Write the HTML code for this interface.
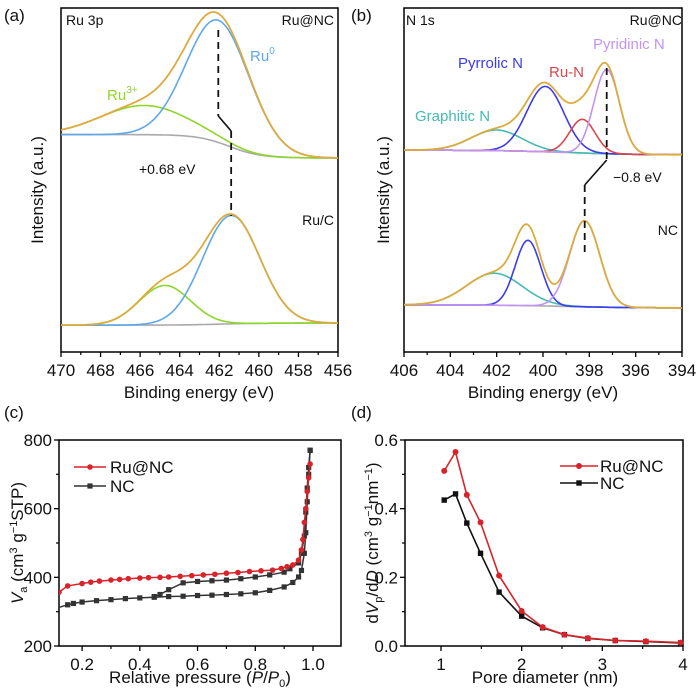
<!DOCTYPE html>
<html><head><meta charset="utf-8"><style>
html,body{margin:0;padding:0;background:#fff;}
svg{display:block;font-family:"Liberation Sans",sans-serif;}
</style></head><body>
<svg id="fig" width="700" height="694" viewBox="0 0 700 694"></svg>
<script>
// ---------- DATA ----------
// Panel (a) Ru 3p: peaks [center eV, height, sigma]
const aTopRu0 = [462.05, 35.5, 1.6];
const aTopRu3 = [465.8, 8.5, 2.2];
const aTopBase = [63.2, 56.4, 461.5, 1.6]; // left level, right level, step center, step width
const aBotRu0 = [461.4, 31.5, 1.45];
const aBotRu3 = [464.75, 11.5, 1.3];
const aBotBase = [7.8, 8.4, 462, 2];
const aTicks = [470,468,466,464,462,460,458,456];
// Panel (b) N 1s
const bTopPyrrolic = [399.9, 19, 0.8];
const bTopGraphitic = [402.0, 6, 1.1];
const bTopRuN = [398.3, 9.8, 0.55];
const bTopPyridinic = [397.25, 24.5, 0.55];
const bTopBase = [58.7, 57.3, 399, 3];
const bBotPyrrolic = [400.65, 19, 0.55];
const bBotGraphitic = [402.1, 9.3, 1.2];
const bBotPyridinic = [398.2, 25, 0.65];
const bBotBase = [13.7, 12.8, 399, 3];
const bTicks = [406,404,402,400,398,396,394];
// Panel (c) isotherms
const cRuP = [0.12,0.15,0.2,0.23,0.26,0.3,0.33,0.36,0.4,0.43,0.47,0.5,0.54,0.58,0.62,0.66,0.7,0.74,0.78,0.82,0.86,0.89,0.91,0.93,0.95,0.96,0.965,0.97,0.975,0.98,0.985,0.99];
const cRuV = [357,375,382,386,389,392,394,396,398,399,400,401,403,405,407,409,412,414,417,419,421,426,431,436,450,480,510,560,600,650,690,730];
const cNCadsP = [0.11,0.15,0.17,0.2,0.25,0.3,0.35,0.4,0.45,0.5,0.55,0.6,0.65,0.7,0.75,0.8,0.85,0.9,0.93,0.95,0.96,0.97,0.975,0.98,0.985,0.99];
const cNCadsV = [310,320,324,328,332,335,338,340,342,344,345,347,348,350,352,355,362,372,385,401,420,470,530,620,700,770];
const cNCdesP = [0.99,0.985,0.98,0.975,0.97,0.96,0.95,0.92,0.9,0.85,0.8,0.75,0.7,0.65,0.6,0.55,0.5,0.47,0.45];
const cNCdesV = [770,720,660,590,520,470,442,425,415,407,401,396,392,390,388,384,364,350,344];
const cXTicks = [0.2,0.4,0.6,0.8,1.0];
const cYTicks = [200,400,600,800];
// Panel (d) pore size distribution
const dX = [1.04,1.18,1.32,1.49,1.72,2.0,2.26,2.53,2.82,3.16,3.54,3.97];
const dRu = [0.51,0.565,0.44,0.36,0.205,0.102,0.055,0.033,0.023,0.016,0.014,0.010];
const dNC = [0.425,0.443,0.358,0.27,0.157,0.087,0.053,0.033,0.022,0.016,0.013,0.009];
const dXTicks = [1,2,3,4];
const dYTicks = [0.0,0.2,0.4,0.6];

// ---------- HELPERS ----------
const NS = "http://www.w3.org/2000/svg";
const svg = document.getElementById("fig");
function el(tag, attrs, parent) {
  const e = document.createElementNS(NS, tag);
  for (const k in attrs) e.setAttribute(k, attrs[k]);
  (parent || svg).appendChild(e);
  return e;
}
function txt(x, y, s, size, fill, anchor, parent) {
  const t = el("text", {x: x, y: y, "font-size": size, fill: fill || "#111", "text-anchor": anchor || "start"}, parent);
  t.innerHTML = s;
  return t;
}
function lin(d0, d1, r0, r1) { return v => r0 + (v - d0) / (d1 - d0) * (r1 - r0); }
function gauss(p, x) { return p[1] * Math.exp(-Math.pow(x - p[0], 2) / (2 * p[2] * p[2])); }
function base(b, x) { // step baseline, higher at high BE
  const s = 1 / (1 + Math.exp(-(x - b[2]) / (b[3] / 2)));
  return b[1] + (b[0] - b[1]) * s;
}
function curve(xs, fn, X, Y) {
  let d = "";
  xs.forEach((x, i) => { d += (i ? "L" : "M") + X(x).toFixed(1) + "," + Y(fn(x)).toFixed(1); });
  return d;
}
function frame(x0, y0, x1, y1, name) {
  const r = el("rect", {x: x0, y: y0, width: x1 - x0, height: y1 - y0, fill: "none", stroke: "#000", "stroke-width": 1.5});
  
  
}
function xAxis(ticks, X, yb, fmt, minor, name) {
  const g = el("g", {});
  
  
  ticks.forEach((t, i) => {
    el("line", {x1: X(t), x2: X(t), y1: yb, y2: yb + 5, stroke: "#000", "stroke-width": 1.3}, g);
    txt(X(t), yb + 24, fmt(t), 17, "#111", "middle", g);
    if (minor && i < ticks.length - 1) {
      const m = (t + ticks[i + 1]) / 2;
      el("line", {x1: X(m), x2: X(m), y1: yb, y2: yb + 3, stroke: "#000", "stroke-width": 1.2}, g);
    }
  });
}
function yAxis(ticks, Y, xl, fmt, name) {
  const g = el("g", {});
  
  
  ticks.forEach((t, i) => {
    el("line", {x1: xl - 5, x2: xl, y1: Y(t), y2: Y(t), stroke: "#000", "stroke-width": 1.3}, g);
    txt(xl - 7, Y(t) + 6, fmt(t), 17, "#111", "end", g);
    if (i < ticks.length - 1) {
      const m = (t + ticks[i + 1]) / 2;
      el("line", {x1: xl - 3, x2: xl, y1: Y(m), y2: Y(m), stroke: "#000", "stroke-width": 1.2}, g);
    }
  });
}
function range(a, b, n) { const r = []; for (let i = 0; i <= n; i++) r.push(a + (b - a) * i / n); return r; }
function path(d, color, w, name) {
  const p = el("path", {d: d, fill: "none", stroke: color, "stroke-width": w || 1.6});
  
  
  return p;
}
function label(x, y, s, size, color, name, anchor) {
  const t = txt(x, y, s, size, color, anchor);
  
  
  return t;
}
function vtitle(x, y, s, name) {
  const t = el("text", {x: 0, y: 0, "font-size": 17, fill: "#111", "text-anchor": "middle", transform: "translate(" + x + "," + y + ") rotate(-90)"});
  t.innerHTML = s;
  
  
}
const ORANGE = "#dcab3d", GRAY = "#aaaaaa";

// ---------- PANEL A ----------
(function () {
  const X = lin(470, 456, 61, 338), Y = lin(0, 100, 352, 8);
  const xs = range(470, 456, 280);
  frame(61, 8, 338, 352, "panel-a-frame");
  [[aTopBase, aTopRu0, aTopRu3, "top"], [aBotBase, aBotRu0, aBotRu3, "bottom"]].forEach(s => {
    const [b, p0, p3, nm] = s;
    path(curve(xs, x => base(b, x), X, Y), GRAY, 1.6, "ru3p-baseline-" + nm);
    path(curve(xs, x => base(b, x) + gauss(p3, x), X, Y), "#8fd62b", 1.6, "ru3plus-peak-" + nm);
    path(curve(xs, x => base(b, x) + gauss(p0, x), X, Y), "#5ea8ea", 1.6, "ru0-peak-" + nm);
    path(curve(xs, x => base(b, x) + gauss(p0, x) + gauss(p3, x), X, Y), ORANGE, 1.8, "ru3p-envelope-" + nm);
  });
  const xt = X(aTopRu0[0]), xb = X(aBotRu0[0]);
  path("M" + xt + ",30L" + xt + ",116", "#111", 1.8, "shift-line-top").setAttribute("stroke-dasharray", "7,5");
  path("M" + xt + ",116L" + xb + ",131", "#111", 1.6, "shift-line-diag");
  path("M" + xb + ",131L" + xb + ",216", "#111", 1.8, "shift-line-bottom").setAttribute("stroke-dasharray", "7,5");
  xAxis(aTicks, X, 352, t => t, true, "x-axis-a");
  label(199, 398, "Binding energy (eV)", 17, "#111", "x-axis-title-a", "middle");
  vtitle(43, 190, "Intensity (a.u.)", "y-axis-title-a");
  label(4, 21, "(a)", 17, "#111", "panel-label-a");
  label(66, 25, "Ru 3p", 14, "#111", "core-level-label-a");
  label(334, 25, "Ru@NC", 14, "#111", "sample-label-runc-a", "end");
  label(334, 225, "Ru/C", 14, "#111", "sample-label-ruc", "end");
  label(139, 174, "+0.68 eV", 14, "#111", "shift-annotation-a");
  label(250, 61, "Ru<tspan font-size='10' dy='-7'>0</tspan>", 15, "#5ea8ea", "ru0-label");
  label(107, 100, "Ru<tspan font-size='10' dy='-7'>3+</tspan>", 15, "#8fd62b", "ru3plus-label");
})();

// ---------- PANEL B ----------
(function () {
  const X = lin(406, 394, 404, 682), Y = lin(0, 100, 352, 8);
  const xs = range(406, 394, 300);
  frame(404, 8, 682, 352, "panel-b-frame");
  const top = [[bTopGraphitic, "#45bab2", "graphitic"], [bTopPyrrolic, "#3b3bf0", "pyrrolic"], [bTopRuN, "#d9474b", "ru-n"], [bTopPyridinic, "#c393f2", "pyridinic"]];
  const bot = [[bBotGraphitic, "#45bab2", "graphitic"], [bBotPyrrolic, "#3b3bf0", "pyrrolic"], [bBotPyridinic, "#c393f2", "pyridinic"]];
  [[bTopBase, top, "top"], [bBotBase, bot, "bottom"]].forEach(s => {
    const [b, peaks, nm] = s;
    path(curve(xs, x => base(b, x), X, Y), GRAY, 1.6, "n1s-baseline-" + nm);
    peaks.forEach(pk => path(curve(xs, x => base(b, x) + gauss(pk[0], x), X, Y), pk[1], 1.6, pk[2] + "-peak-" + nm));
    path(curve(xs, x => base(b, x) + peaks.reduce((a, pk) => a + gauss(pk[0], x), 0), X, Y), ORANGE, 1.8, "n1s-envelope-" + nm);
  });
  const xt = X(bTopPyridinic[0]), xb = X(bBotPyridinic[0]);
  path("M" + xt + ",68L" + xt + ",160", "#111", 1.8, "shift-line-top-b").setAttribute("stroke-dasharray", "7,5");
  path("M" + xt + ",160L" + xb + ",185", "#111", 1.6, "shift-line-diag-b");
  path("M" + xb + ",185L" + xb + ",256", "#111", 1.8, "shift-line-bottom-b").setAttribute("stroke-dasharray", "7,5");
  xAxis(bTicks, X, 352, t => t, true, "x-axis-b");
  label(543, 398, "Binding energy (eV)", 17, "#111", "x-axis-title-b", "middle");
  vtitle(389, 190, "Intensity (a.u.)", "y-axis-title-b");
  label(351, 21, "(b)", 17, "#111", "panel-label-b");
  label(406, 25, "N 1s", 14, "#111", "core-level-label-b");
  label(682, 25, "Ru@NC", 14, "#111", "sample-label-runc-b", "end");
  label(678, 235, "NC", 14, "#111", "sample-label-nc", "end");
  label(613, 182, "\u22120.8 eV", 14, "#111", "shift-annotation-b");
  label(458, 68, "Pyrrolic N", 15, "#3b3bf0", "pyrrolic-label");
  label(549, 77, "Ru-N", 15, "#d9474b", "ru-n-label");
  label(593, 49, "Pyridinic N", 15, "#c393f2", "pyridinic-label");
  label(415, 121, "Graphitic N", 15, "#45bab2", "graphitic-label");
})();

// ---------- PANEL C ----------
(function () {
  const X = lin(0.12, 1.097, 59, 341), Y = lin(200, 800, 646, 440);
  frame(59, 440, 341, 646, "panel-c-frame");
  const clip = el("clipPath", {id: "clipc"});
  el("rect", {x: 59, y: 440, width: 282, height: 206}, clip);
  const g = el("g", {"clip-path": "url(#clipc)"});
  
  
  function series(P, V, color, shape, name) {
    const p = el("path", {d: P.map((x, i) => (i ? "L" : "M") + X(x) + "," + Y(V[i])).join(""), fill: "none", stroke: color, "stroke-width": 1.5}, g);
    
    
    P.forEach((x, i) => {
      let m;
      if (shape === "c") m = el("circle", {cx: X(x), cy: Y(V[i]), r: 2.8, fill: color}, g);
      else m = el("rect", {x: X(x) - 2.6, y: Y(V[i]) - 2.6, width: 5.2, height: 5.2, fill: color}, g);
      
      
    });
  }
  series(cNCadsP, cNCadsV, "#333", "s", "nc-adsorption");
  series(cNCdesP, cNCdesV, "#333", "s", "nc-desorption");
  series(cRuP, cRuV, "#d8232a", "c", "runc-isotherm");
  xAxis(cXTicks, X, 646, t => t.toFixed(1), true, "x-axis-c");
  yAxis(cYTicks, Y, 59, t => t, "y-axis-c");
  label(200, 683, "Relative pressure (<tspan font-style='italic'>P</tspan>/<tspan font-style='italic'>P</tspan><tspan font-size='11' dy='4'>0</tspan><tspan dy='-4'>)</tspan>", 17, "#111", "x-axis-title-c", "middle");
  vtitle(23, 543, "<tspan font-style='italic'>V</tspan><tspan font-size='11' dy='4'>a</tspan><tspan dy='-4'> (cm</tspan><tspan font-size='11' dy='-6'>3</tspan><tspan dy='6'> g</tspan><tspan font-size='11' dy='-6'>\u22121</tspan><tspan dy='6'>STP)</tspan>", "y-axis-title-c");
  label(4, 418, "(c)", 17, "#111", "panel-label-c");
  const lg = el("g", {});
  
  
  el("line", {x1: 74, x2: 106, y1: 467, y2: 467, stroke: "#d8232a", "stroke-width": 1.5}, lg);
  el("circle", {cx: 90, cy: 467, r: 2.8, fill: "#d8232a"}, lg);
  txt(110, 473, "Ru@NC", 17, "#111", "start", lg);
  el("line", {x1: 74, x2: 106, y1: 486, y2: 486, stroke: "#333", "stroke-width": 1.5}, lg);
  el("rect", {x: 87.4, y: 483.4, width: 5.2, height: 5.2, fill: "#333"}, lg);
  txt(110, 492, "NC", 17, "#111", "start", lg);
})();

// ---------- PANEL D ----------
(function () {
  const X = lin(1, 4, 441, 683), Y = lin(0, 0.6, 646, 440);
  frame(405, 440, 683, 646, "panel-d-frame");
  function series(V, color, shape, name) {
    const p = el("path", {d: dX.map((x, i) => (i ? "L" : "M") + X(x) + "," + Y(V[i])).join(""), fill: "none", stroke: color, "stroke-width": 1.6});
    
    
    dX.forEach((x, i) => {
      let m;
      if (shape === "c") m = el("circle", {cx: X(x), cy: Y(V[i]), r: 3, fill: color});
      else m = el("rect", {x: X(x) - 2.7, y: Y(V[i]) - 2.7, width: 5.4, height: 5.4, fill: color});
      
      
    });
  }
  series(dNC, "#111", "s", "nc-pore");
  series(dRu, "#d8232a", "c", "runc-pore");
  xAxis(dXTicks, X, 646, t => t, true, "x-axis-d");
  yAxis(dYTicks, Y, 405, t => t.toFixed(1), "y-axis-d");
  label(545, 683, "Pore diameter (nm)", 17, "#111", "x-axis-title-d", "middle");
  vtitle(378, 543, "d<tspan font-style='italic'>V</tspan><tspan font-size='11' dy='4'>p</tspan><tspan dy='-4'>/d</tspan><tspan font-style='italic'>D</tspan><tspan> (cm</tspan><tspan font-size='11' dy='-6'>3</tspan><tspan dy='6'> g</tspan><tspan font-size='11' dy='-6'>\u22121</tspan><tspan dy='6'>nm</tspan><tspan font-size='11' dy='-6'>\u22121</tspan><tspan dy='6'>)</tspan>", "y-axis-title-d");
  label(351, 418, "(d)", 17, "#111", "panel-label-d");
  const lg = el("g", {});
  
  
  el("line", {x1: 560, x2: 598, y1: 466, y2: 466, stroke: "#d8232a", "stroke-width": 1.6}, lg);
  el("circle", {cx: 579, cy: 466, r: 3, fill: "#d8232a"}, lg);
  txt(600, 472, "Ru@NC", 17, "#111", "start", lg);
  el("line", {x1: 560, x2: 598, y1: 483, y2: 483, stroke: "#111", "stroke-width": 1.6}, lg);
  el("rect", {x: 576.3, y: 480.3, width: 5.4, height: 5.4, fill: "#111"}, lg);
  txt(600, 489, "NC", 17, "#111", "start", lg);
})();
</script>
</body></html>
